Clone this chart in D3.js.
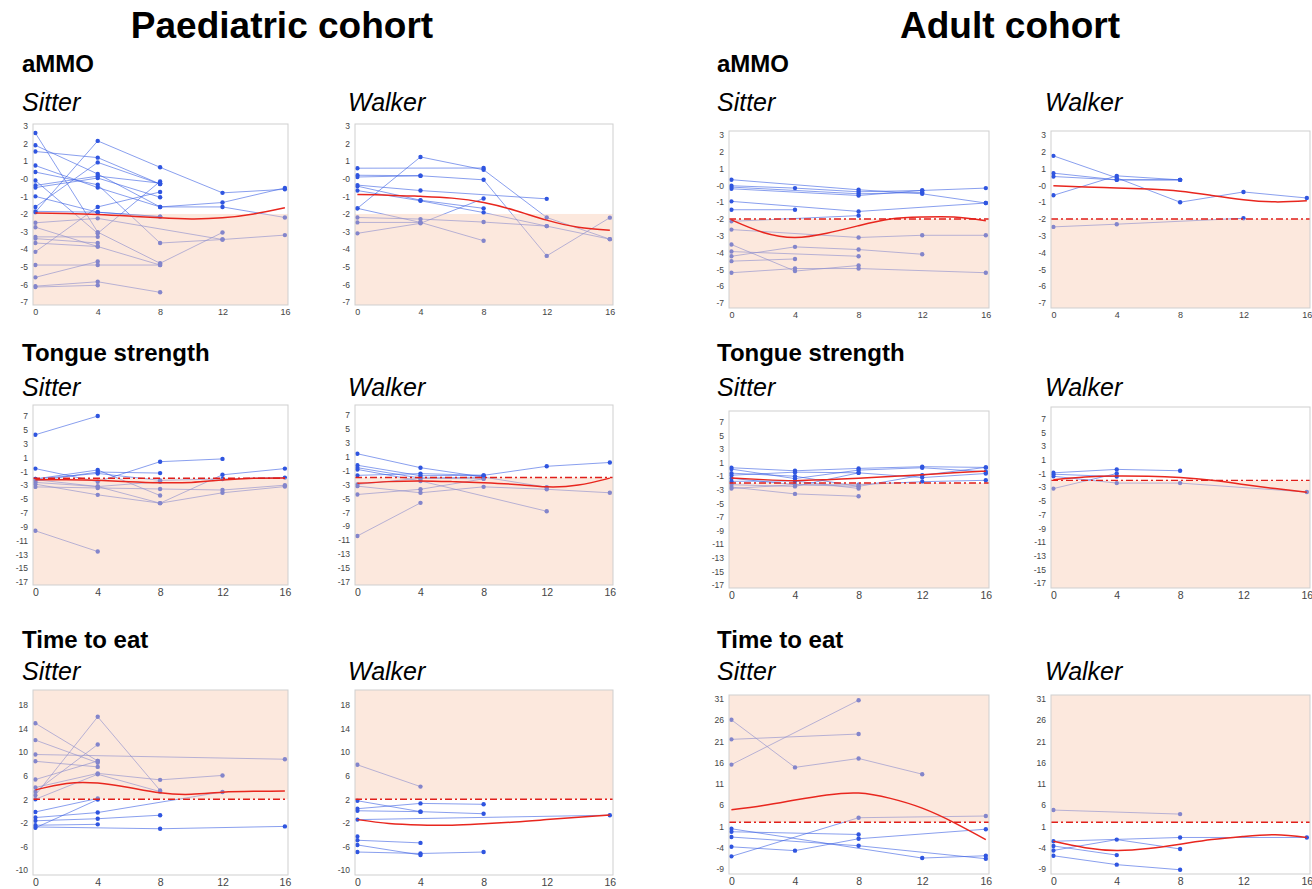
<!DOCTYPE html>
<html><head><meta charset="utf-8">
<script src="https://cdnjs.cloudflare.com/ajax/libs/d3/7.8.5/d3.min.js"></script>
<style>
body{margin:0;background:#fff}
svg{display:block}
.ax text{font-family:"Liberation Sans",Arial,sans-serif;fill:#444}
</style>
</head><body>
<script>
var weeks = [0,4,8,12,16];
var fitWeeks = [0,2,4,6,8,10,12,14,16];

// one row per patient, values at weeks 0/4/8/12/16, null = not assessed
var paedSitterAmmo = [
  [2.6,-3.03,-4.8,-3.05,null],[1.9,0.27,-1.6,-1.35,-0.52],[1.55,1.2,-0.3,null,null],
  [0.75,-0.5,-1.6,-1.6,-2.2],[0.38,-0.34,-3.65,-3.45,-3.2],[-0.1,-3.1,-0.15,null,null],
  [-0.38,0.15,-0.25,null,null],[-0.5,0.04,-1.05,null,null],[-1.0,-1.9,-2.15,null,null],
  [-1.6,0.93,-0.3,null,null],[-1.85,-1.9,-2.15,null,null],[-1.9,2.15,0.65,-0.8,-0.6],
  [-2.5,-2.25,null,-3.45,null],[-2.75,-3.85,-4.9,null,null],[-3.3,-3.3,null,null,null],
  [-3.4,-3.65,null,null,null],[-3.65,-3.85,null,null,null],[-4.15,-1.6,-0.75,null,null],
  [-4.9,-4.9,-4.9,null,null],[-5.6,-4.7,null,null,null],[-6.1,-5.85,-6.45,null,null],
  [-6.15,-6.05,null,null,null]
];
var paedSitterAmmoFit = [-1.95,-1.98,-2.03,-2.12,-2.22,-2.28,-2.22,-2.0,-1.65];

var paedWalkerAmmo = [
  [0.6,null,0.61,null,null],[-1.68,1.24,0.51,-2.2,-3.43],[0.2,0.17,-0.06,-4.38,-2.21],
  [0.1,0.17,null,null,null],[-0.36,-0.67,null,-1.14,null],[-0.42,-1.22,-1.68,null,null],
  [-0.67,-1.25,-1.92,-2.69,-3.43],[-1.68,-2.48,-3.52,null,null],[-2.2,-2.29,-2.46,-2.69,null],
  [-2.48,-2.48,null,null,null],[-3.1,-2.53,-1.12,null,null]
];
var paedWalkerAmmoFit = [-0.9,-0.93,-1.0,-1.1,-1.35,-1.8,-2.35,-2.75,-2.92];

var adultSitterAmmo = [
  [0.34,null,-0.26,-0.5,-1.05],[-0.02,-0.16,-0.38,-0.3,-0.16],[-0.1,null,-0.5,-0.42,null],
  [-0.2,null,-0.6,-0.3,null],[-0.95,null,-1.55,null,-1.05],[-1.45,-1.45,null,null,null],
  [-2.14,null,-1.8,null,null],[-2.63,null,-3.1,-2.97,-2.97],[-3.52,-5.1,-4.77,null,null],
  [-3.94,null,-4.22,null,null],[-4.22,-3.66,-3.82,-4.1,null],[-4.51,-4.38,null,null,null],
  [-5.2,-4.95,-4.95,null,-5.2]
];
var adultSitterAmmoFit = [-2.05,-2.8,-3.1,-2.85,-2.4,-2.0,-1.88,-1.88,-2.1];

var adultWalkerAmmo = [
  [1.76,0.45,-1.0,-0.39,-0.75],[0.73,0.33,0.33,null,null],[0.53,0.33,0.33,null,null],
  [-0.59,0.57,0.33,null,null],[-2.47,-2.31,null,-1.96,null]
];
var adultWalkerAmmoFit = [-0.02,-0.1,-0.15,-0.22,-0.35,-0.6,-0.85,-0.98,-0.92];

var paedSitterTongue = [
  [4.3,7.0,null,null,null],[-9.6,-12.6,null,null,null],[-0.6,-2.5,0.4,0.8,null],
  [-2.1,-0.8,-4.5,null,null],[-2.4,-1.1,-1.25,null,null],[-2.6,-3.2,-5.6,-1.5,-0.6],
  [-2.85,-4.4,-5.6,-4.1,-3.2],[-3.25,-3.4,-3.55,-3.7,-3.0],[-2.1,-1.3,-2.3,-2.1,-1.9],
  [-2.2,-3.2,-2.5,null,null]
];
var paedSitterTongueFit = [-2.2,-2.2,-2.3,-2.5,-2.65,-2.6,-2.25,-2.0,-1.95];

var paedWalkerTongue = [
  [1.4,-0.6,-1.95,null,null],[-0.25,-1.75,-1.7,-0.4,0.15],[-0.85,-2.5,null,-6.85,null],
  [-1.7,-1.45,-1.7,null,null],[-3.0,-2.1,-2.2,null,null],[-3.25,-4.2,-3.35,-3.7,-4.2],
  [-4.45,-3.7,-2.2,null,null],[-10.4,-5.65,null,null,null],[-0.6,-2.1,-1.95,-3.4,null]
];
var paedWalkerTongueFit = [-2.85,-2.6,-2.5,-2.6,-2.75,-3.0,-3.35,-3.1,-2.1];

var adultSitterTongue = [
  [0.25,-0.2,0.15,0.4,0.3],[0.05,-1.35,-0.1,0.25,-0.35],[-0.55,-1.0,-2.5,null,null],
  [-0.85,-0.4,-0.5,-1.2,-0.6],[-1.3,-2.25,-2.25,-1.8,-1.6],[-1.75,-1.7,-2.8,null,null],
  [-2.25,-2.5,-0.5,null,null],[-2.6,-3.6,-3.95,null,null],[-2.8,-2.25,-2.5,-0.85,0.3]
];
var adultSitterTongueFit = [-1.25,-1.5,-1.65,-1.5,-1.3,-1.05,-0.8,-0.5,-0.25];

var adultWalkerTongue = [
  [-0.9,-0.4,-0.6,null,null],[-1.1,-1.45,null,null,null],
  [-1.4,-2.4,-2.4,null,-3.7],[-3.2,-1.0,null,null,null]
];
var adultWalkerTongueFit = [-1.9,-1.5,-1.35,-1.4,-1.6,-2.0,-2.6,-3.2,-3.75];

var paedSitterTime = [
  [14.9,8.5,null,null,null],[12.05,8.2,null,null,null],[9.6,null,null,null,8.8],
  [8.45,7.5,null,null,null],[5.35,8.5,null,null,null],[4.0,6.4,5.3,6.05,null],
  [3.3,11.3,null,null,null],[2.7,16.0,3.5,null,null],[2.0,6.25,3.3,null,null],
  [-0.15,2.15,null,null,null],[-1.1,-0.25,null,3.25,null],[-1.65,-1.3,-0.7,null,null],
  [-2.4,-2.25,null,null,null],[-2.7,null,-3.0,null,-2.6],[-2.85,1.95,null,null,null]
];
var paedSitterTimeFit = [3.6,4.7,4.75,4.0,3.1,2.85,3.2,3.35,3.4];

var paedWalkerTime = [
  [7.85,4.15,null,null,null],[1.75,-0.1,null,null,null],[0.4,1.3,1.15,null,null],
  [0.05,-0.1,-0.45,null,null],[-1.45,null,null,null,-0.7],[-4.3,null,null,null,null],
  [-4.95,-5.4,null,null,null],[-5.75,-7.45,null,null,null],[-6.95,-7.2,-6.95,null,null]
];
var paedWalkerTimeFit = [-1.45,-2.1,-2.35,-2.4,-2.15,-1.85,-1.45,-1.05,-0.65];

var adultSitterTime = [
  [26.1,14.9,17.0,13.3,null],[21.5,null,22.75,null,null],[15.55,null,30.7,null,null],
  [0.45,null,null,-6.45,-5.9],[-0.25,null,-0.9,null,null],[-1.5,null,-3.55,null,-6.6],
  [-3.8,-4.7,-1.9,null,0.35],[-6.05,null,3.05,null,3.45]
];
var adultSitterTimeFit = [4.9,5.9,7.2,8.4,8.85,7.6,5.3,1.9,-2.1];

var adultWalkerTime = [
  [4.85,null,3.9,null,null],[-2.5,null,-1.6,null,-1.6],[-3.6,-5.75,null,null,null],
  [-4.65,-2.1,-4.3,null,null],[-5.9,-8.0,-9.2,null,null]
];
var adultWalkerTimeFit = [-2.5,-4.0,-4.65,-4.2,-3.2,-2.1,-1.35,-0.95,-1.6];

var ammoTicks = [3,2,1,0,-1,-2,-3,-4,-5,-6,-7];
var tongueTicks = [7,5,3,1,-1,-3,-5,-7,-9,-11,-13,-15,-17];
var paedTimeTicks = [18,14,10,6,2,-2,-6,-10];
var adultTimeTicks = [31,26,21,16,11,6,1,-4,-9];

var W = 1312, H = 889;
var svg = d3.select("body").append("svg").attr("width", W).attr("height", H);

var cols = {ps:[33,288], pw:[355,613], as:[729,989], aw:[1051,1310]};

var panels = [
  {c:"ps", y:[124,305], dom:[-7.17,3.11], ticks:ammoTicks, data:paedSitterAmmo, fit:paedSitterAmmoFit, thr:-2, below:true, ref:false, xf:9},
  {c:"pw", y:[124,305], dom:[-7.17,3.11], ticks:ammoTicks, data:paedWalkerAmmo, fit:paedWalkerAmmoFit, thr:-2, below:true, ref:false, xf:9},
  {c:"as", y:[131,308], dom:[-7.3,3.24], ticks:ammoTicks, data:adultSitterAmmo, fit:adultSitterAmmoFit, thr:-2, below:true, ref:true, xf:9},
  {c:"aw", y:[131,308], dom:[-7.3,3.24], ticks:ammoTicks, data:adultWalkerAmmo, fit:adultWalkerAmmoFit, thr:-2, below:true, ref:true, xf:9},
  {c:"ps", y:[405,585], dom:[-17.44,8.6], ticks:tongueTicks, data:paedSitterTongue, fit:paedSitterTongueFit, thr:-2, below:true, ref:true, xf:10.5},
  {c:"pw", y:[405,585], dom:[-17.44,8.4], ticks:tongueTicks, data:paedWalkerTongue, fit:paedWalkerTongueFit, thr:-2, below:true, ref:true, xf:10.5},
  {c:"as", y:[411,588], dom:[-17.45,8.6], ticks:tongueTicks, data:adultSitterTongue, fit:adultSitterTongueFit, thr:-2, below:true, ref:true, xf:10.5},
  {c:"aw", y:[407,588], dom:[-17.7,8.7], ticks:tongueTicks, data:adultWalkerTongue, fit:adultWalkerTongueFit, thr:-2, below:true, ref:true, xf:10.5},
  {c:"ps", y:[690,875], dom:[-10.85,20.55], ticks:paedTimeTicks, data:paedSitterTime, fit:paedSitterTimeFit, thr:2, below:false, ref:true, xf:10.5},
  {c:"pw", y:[690,875], dom:[-10.85,20.55], ticks:paedTimeTicks, data:paedWalkerTime, fit:paedWalkerTimeFit, thr:2, below:false, ref:true, xf:10.5},
  {c:"as", y:[695,874], dom:[-10.2,31.94], ticks:adultTimeTicks, data:adultSitterTime, fit:adultSitterTimeFit, thr:2, below:false, ref:true, xf:10.5},
  {c:"aw", y:[695,874], dom:[-10.2,31.94], ticks:adultTimeTicks, data:adultWalkerTime, fit:adultWalkerTimeFit, thr:2, below:false, ref:true, xf:10.5}
];

panels.forEach(function(p, i){
  var x0 = cols[p.c][0], x1 = cols[p.c][1];
  var x = d3.scaleLinear().domain([-0.15,16.2]).range([x0,x1]);
  var y = d3.scaleLinear().domain(p.dom).range([p.y[1],p.y[0]]);

  var clipId = "clip" + i;
  svg.append("clipPath").attr("id", clipId).append("rect")
    .attr("x", x0).attr("y", p.y[0]).attr("width", x1-x0).attr("height", p.y[1]-p.y[0]);

  var g = svg.append("g").attr("clip-path", "url(#" + clipId + ")");

  var line = d3.line().x(function(d){return x(d[0])}).y(function(d){return y(d[1])});

  p.data.forEach(function(row){
    var pts = weeks.map(function(w,j){return [w,row[j]]}).filter(function(d){return d[1]!=null});
    if (pts.length > 1)
      g.append("path").attr("d", line(pts)).attr("fill","none")
        .attr("stroke","#3a5fe3").attr("stroke-opacity",0.6).attr("stroke-width",1);
    g.selectAll(null).data(pts).enter().append("circle")
      .attr("cx", function(d){return x(d[0])}).attr("cy", function(d){return y(d[1])})
      .attr("r", 2.2).attr("fill","#2f55e0");
  });

  // shaded (abnormal) band drawn over the patients
  var ty = y(p.thr);
  g.append("rect").attr("x", x0)
    .attr("y", p.below ? ty : p.y[0])
    .attr("width", x1-x0)
    .attr("height", p.below ? p.y[1]-ty : ty-p.y[0])
    .attr("fill","#f8c9ad").attr("fill-opacity",0.42);

  var fitLine = d3.line().curve(d3.curveNatural)
    .x(function(d,j){return x(fitWeeks[j])}).y(function(d){return y(d)});
  g.append("path").attr("d", fitLine(p.fit)).attr("fill","none")
    .attr("stroke","#e8261e").attr("stroke-width",1.5);

  if (p.ref)
    g.append("line").attr("x1",x0).attr("x2",x1).attr("y1",ty).attr("y2",ty)
      .attr("stroke","#e01e1a").attr("stroke-width",1.4).attr("stroke-dasharray","7,3,2,3");

  svg.append("rect").attr("x",x0).attr("y",p.y[0]).attr("width",x1-x0).attr("height",p.y[1]-p.y[0])
    .attr("fill","none").attr("stroke","#cfcfcf").attr("stroke-width",1);

  var ya = svg.append("g").attr("class","ax").attr("transform","translate("+(x0-2)+",0)")
    .call(d3.axisLeft(y).tickValues(p.ticks).tickSize(0).tickPadding(3)
      .tickFormat(function(d){return d===0 ? "-0" : d}));
  ya.select(".domain").remove();
  ya.selectAll("text").style("font-size","8.5px");

  var xa = svg.append("g").attr("class","ax").attr("transform","translate(0,"+(p.y[1]+1)+")")
    .call(d3.axisBottom(x).tickValues(weeks).tickSize(0).tickPadding(3));
  xa.select(".domain").remove();
  xa.selectAll("text").style("font-size", p.xf+"px");
});

var font = '"Liberation Sans",Arial,sans-serif';
function label(txt, px, py, size, weight, style, anchor){
  svg.append("text").attr("x",px).attr("y",py).text(txt)
    .attr("font-family",font).attr("font-size",size).attr("font-weight",weight)
    .attr("font-style",style).attr("text-anchor",anchor||"start").attr("fill","#000");
}
label("Paediatric cohort", 282, 38, 37, "bold", "normal", "middle");
label("Adult cohort", 1010, 38, 37, "bold", "normal", "middle");

var headings = ["aMMO","Tongue strength","Time to eat"];
var headY = [72, 361, 648];
var subY = [111, 396, 680];
[[22,348],[717,1045]].forEach(function(xs){
  headings.forEach(function(h,k){
    label(h, xs[0], headY[k], 24, "bold", "normal");
    label("Sitter", xs[0], subY[k], 25, "normal", "italic");
    label("Walker", xs[1], subY[k], 25, "normal", "italic");
  });
});
</script>
</body></html>
